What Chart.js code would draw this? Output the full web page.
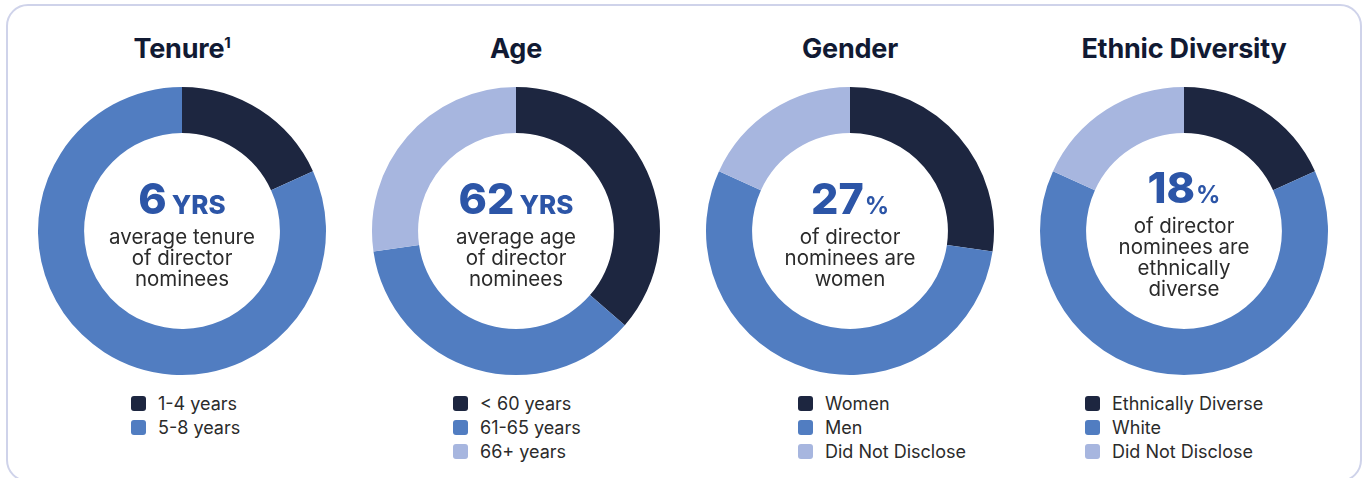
<!DOCTYPE html>
<html>
<head>
<meta charset="utf-8">
<script src="https://cdn.jsdelivr.net/npm/chart.js@4/dist/chart.umd.min.js"></script>
<style>
  html,body{margin:0;padding:0;background:#fff;}
  body{width:1369px;height:478px;position:relative;overflow:hidden;font-family:Inter,"Noto Sans",sans-serif;}
  .card{position:absolute;left:6px;top:4px;width:1356px;height:478px;border:2px solid #cfd3ea;border-radius:22px;box-sizing:border-box;}
  .col{position:absolute;top:0;width:334px;height:478px;}
  .title{position:absolute;top:32px;left:0;width:334px;text-align:center;font-weight:700;font-size:27px;color:#111a33;letter-spacing:-0.2px;}
  .title sup{font-size:15px;vertical-align:top;position:relative;top:1px;}
  .col canvas{position:absolute;left:17px;top:81px;}
  .legend{position:absolute;top:391px;}
  .item{display:flex;align-items:center;height:24px;font-size:18px;color:#2b2b2b;}
  .box{width:15px;height:15px;border-radius:3px;margin-right:12px;}
</style>
</head>
<body>
<div class="card"></div>
<div id="wrap"></div>
<script>
// Data (director counts, 11 nominees)
const titles = ['Tenure<sup>1</sup>', 'Age', 'Gender', 'Ethnic Diversity'];
const tenureLabels = ['1-4 years', '5-8 years'];
const tenureValues = [2, 9];
const ageLabels = ['< 60 years', '61-65 years', '66+ years'];
const ageValues = [4, 4, 3];
const genderLabels = ['Women', 'Men', 'Did Not Disclose'];
const genderValues = [3, 6, 2];
const ethnicLabels = ['Ethnically Diverse', 'White', 'Did Not Disclose'];
const ethnicValues = [2, 7, 2];
const bigNumbers = ['6', '62', '27', '18'];
const bigUnits = ['YRS', 'YRS', '%', '%'];
const captions = [
  ['average tenure', 'of director', 'nominees'],
  ['average age', 'of director', 'nominees'],
  ['of director', 'nominees are', 'women'],
  ['of director', 'nominees are', 'ethnically', 'diverse']
];

const colors = ['#1d2640', '#517dc1', '#a7b6df'];
const legendLeft = [116, 104, 115, 68];

const panels = [
  [tenureLabels, tenureValues],
  [ageLabels, ageValues],
  [genderLabels, genderValues],
  [ethnicLabels, ethnicValues]
];

// draws the big number + caption in the hole
const centerText = {
  id: 'centerText',
  afterDraw(chart, args, opts){
    const ctx = chart.ctx;
    const meta = chart.getDatasetMeta(0).data[0];
    const cx = meta.x, cy = meta.y;
    const bigH = 38, lineH = 21, gap = 8;
    const total = bigH + gap + opts.lines.length * lineH;
    let y = cy + 6 - total / 2;
    ctx.save();
    ctx.textBaseline = 'alphabetic';
    ctx.font = '800 43px Inter';
    const w1 = ctx.measureText(opts.num).width;
    const pct = opts.unit === '%';
    ctx.font = pct ? '700 24px Inter' : '800 26px Inter';
    const w2 = ctx.measureText(opts.unit).width;
    const sp = pct ? 1 : 5;
    let x = cx - (w1 + sp + w2) / 2;
    ctx.fillStyle = '#2c55a7';
    ctx.textAlign = 'left';
    ctx.font = '800 43px Inter';
    ctx.fillText(opts.num, x, y + 31);
    ctx.font = pct ? '700 24px Inter' : '800 26px Inter';
    ctx.fillText(opts.unit, x + w1 + sp, y + 31);
    y += bigH + gap;
    ctx.font = '20.5px Inter';
    ctx.fillStyle = '#2b2b2b';
    ctx.textAlign = 'center';
    opts.lines.forEach((l, i) => {
      ctx.fillText(l, cx, y + i * lineH + 15);
    });
    ctx.restore();
  }
};

const wrap = document.getElementById('wrap');
panels.forEach((p, i) => {
  const col = document.createElement('div');
  col.className = 'col';
  col.style.left = (15 + i * 334) + 'px';
  col.innerHTML = `<div class="title">${titles[i]}</div><canvas width="300" height="300"></canvas><div class="legend" style="left:${legendLeft[i]}px"></div>`;
  wrap.appendChild(col);

  const leg = col.querySelector('.legend');
  p[0].forEach((lab, j) => {
    leg.innerHTML += `<div class="item"><span class="box" style="background:${colors[j]}"></span>${lab.replace('<', '&lt;')}</div>`;
  });

  new Chart(col.querySelector('canvas'), {
    type: 'doughnut',
    data: {
      labels: p[0],
      datasets: [{ data: p[1], backgroundColor: colors.slice(0, p[1].length), borderWidth: 0 }]
    },
    options: {
      responsive: false,
      animation: false,
      cutout: '68%',
      layout: { padding: 6 },
      events: [],
      plugins: {
        legend: { display: false },
        tooltip: { enabled: false },
        centerText: { num: bigNumbers[i], unit: bigUnits[i], lines: captions[i] }
      }
    },
    plugins: [centerText]
  });
});
</script>
</body>
</html>
